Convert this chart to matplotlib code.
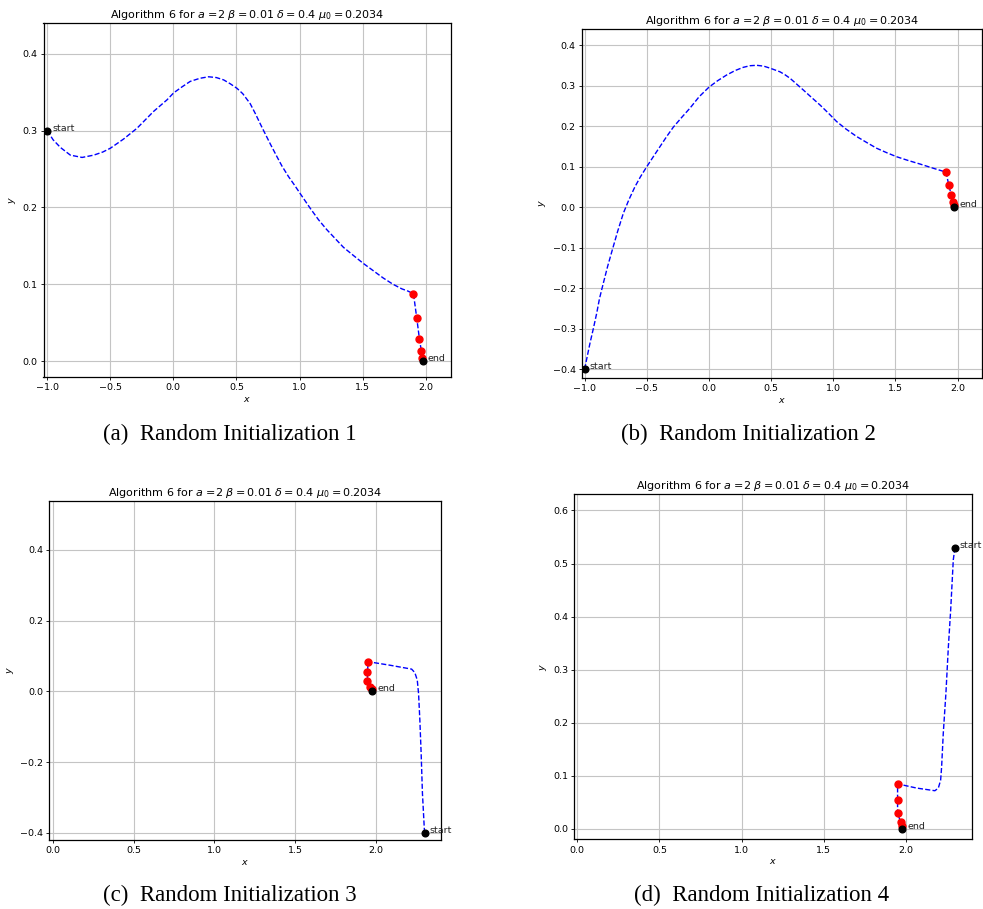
import matplotlib
matplotlib.use("Agg")
import matplotlib.pyplot as plt

# ---------------- data ----------------
title = r"Algorithm 6 for $a$ =2 $\beta=0.01$ $\delta=0.4$ $\mu_0=0.2034$"
captions = ["(a)  Random Initialization 1", "(b)  Random Initialization 2",
            "(c)  Random Initialization 3", "(d)  Random Initialization 4"]

# panel (a)
a_curve_x = [-1.0, -0.953, -0.895, -0.816, -0.723, -0.631, -0.560, -0.499, -0.394, -0.288,
             -0.156, -0.05, 0.002, 0.07, 0.134, 0.21, 0.279, 0.34, 0.398, 0.45,
             0.504, 0.55, 0.609, 0.65, 0.688, 0.715, 0.77, 0.821, 0.86, 0.913,
             0.96, 1.005, 1.084, 1.15, 1.216, 1.348, 1.43, 1.506, 1.664, 1.74,
             1.810, 1.86]
a_curve_y = [0.300, 0.288, 0.278, 0.268, 0.265, 0.268, 0.272, 0.277, 0.289, 0.303,
             0.325, 0.340, 0.349, 0.357, 0.364, 0.368, 0.370, 0.369, 0.366, 0.361,
             0.355, 0.348, 0.335, 0.322, 0.309, 0.300, 0.282, 0.266, 0.254, 0.240,
             0.229, 0.218, 0.199, 0.184, 0.171, 0.148, 0.137, 0.127, 0.108, 0.100,
             0.094, 0.091]
a_red_x = [1.903, 1.929, 1.950, 1.966, 1.972]
a_red_y = [0.0875, 0.056, 0.029, 0.0125, 0.004]
a_start = (-1.0, 0.300)
a_end = (1.976, 0.0)

# panel (b)
b_curve_x = [-1.0, -0.98, -0.957, -0.93, -0.903, -0.88, -0.850, -0.815, -0.778, -0.735,
             -0.689, -0.645, -0.595, -0.55, -0.501, -0.45, -0.394, -0.34, -0.287, -0.22,
             -0.153, -0.08, 0.0, 0.07, 0.142, 0.21, 0.276, 0.33, 0.384, 0.44,
             0.491, 0.571, 0.61, 0.652, 0.70, 0.759, 0.82, 0.893, 0.96, 1.027,
             1.10, 1.188, 1.27, 1.349, 1.43, 1.510, 1.60, 1.698, 1.80]
b_curve_y = [-0.400, -0.370, -0.336, -0.300, -0.262, -0.225, -0.188, -0.146, -0.106, -0.060,
             -0.015, 0.018, 0.051, 0.076, 0.100, 0.124, 0.150, 0.175, 0.198, 0.222,
             0.245, 0.273, 0.297, 0.313, 0.327, 0.338, 0.346, 0.350, 0.351, 0.349,
             0.344, 0.335, 0.328, 0.319, 0.306, 0.290, 0.273, 0.253, 0.233, 0.212,
             0.194, 0.175, 0.160, 0.146, 0.135, 0.125, 0.116, 0.107, 0.097]
b_red_x = [1.907, 1.928, 1.949, 1.966, 1.971]
b_red_y = [0.087, 0.056, 0.030, 0.013, 0.005]
b_start = (-1.0, -0.400)
b_end = (1.973, 0.0)

# panel (c)
c_curve_x = [2.300, 2.287, 2.279, 2.271, 2.263, 2.255, 2.240, 2.220, 2.086]
c_curve_y = [-0.400, -0.288, -0.175, -0.081, -0.006, 0.032, 0.053, 0.063, 0.074]
c_red_x = [1.951, 1.947, 1.947, 1.962, 1.972]
c_red_y = [0.084, 0.055, 0.029, 0.013, 0.006]
c_start = (2.300, -0.400)
c_end = (1.976, 0.0)

# panel (d)
d_curve_x = [2.298, 2.288, 2.272, 2.258, 2.243, 2.227, 2.217, 2.211, 2.197, 2.176, 2.065]
d_curve_y = [0.530, 0.507, 0.412, 0.343, 0.255, 0.180, 0.117, 0.092, 0.077, 0.072, 0.077]
d_red_x = [1.949, 1.949, 1.949, 1.968, 1.974]
d_red_y = [0.085, 0.055, 0.030, 0.0126, 0.006]
d_start = (2.298, 0.530)
d_end = (1.978, 0.0)

panels = [
    (a_curve_x, a_curve_y, a_red_x, a_red_y, a_start, a_end),
    (b_curve_x, b_curve_y, b_red_x, b_red_y, b_start, b_end),
    (c_curve_x, c_curve_y, c_red_x, c_red_y, c_start, c_end),
    (d_curve_x, d_curve_y, d_red_x, d_red_y, d_start, d_end),
]

# ---------------- layout ----------------
W, H = 983, 909
# axes boxes in pixels: left, right, top, bottom
boxes = [(43.5, 450.7, 23.0, 376.7),
         (582.0, 982.5, 29.3, 377.7),
         (49.3, 440.7, 500.7, 840.0),
         (574.3, 971.7, 494.0, 839.3)]
limits = [((-1.029, 2.198), (-0.0204, 0.44)),
          ((-1.021, 2.20), (-0.421, 0.44)),
          ((-0.022, 2.40), (-0.42, 0.539)),
          ((-0.018, 2.40), (-0.0195, 0.631))]
xticks = [[-1.0, -0.5, 0.0, 0.5, 1.0, 1.5, 2.0],
          [-1.0, -0.5, 0.0, 0.5, 1.0, 1.5, 2.0],
          [0.0, 0.5, 1.0, 1.5, 2.0],
          [0.0, 0.5, 1.0, 1.5, 2.0]]
yticks = [[0.0, 0.1, 0.2, 0.3, 0.4],
          [-0.4, -0.3, -0.2, -0.1, 0.0, 0.1, 0.2, 0.3, 0.4],
          [-0.4, -0.2, 0.0, 0.2, 0.4],
          [0.0, 0.1, 0.2, 0.3, 0.4, 0.5, 0.6]]
cap_pos = [(230, 440), (748, 440), (230, 901.5), (762, 901.5)]

fs_tick = 6.8
fig = plt.figure(figsize=(W / 100, H / 100), dpi=100)

for i, (cx, cy, rx, ry, st, en) in enumerate(panels):
    l, r, t, b = boxes[i]
    ax = fig.add_axes([l / W, (H - b) / H, (r - l) / W, (b - t) / H])
    ax.grid(True, color="#c4c4c4", linewidth=0.8)
    ax.set_axisbelow(True)
    px = list(cx) + list(rx) + [en[0]]
    py = list(cy) + list(ry) + [en[1]]
    ax.plot(px, py, "b--", linewidth=1.0, zorder=2)
    ax.plot(rx, ry, "o", color="red", markersize=5, zorder=3)
    ax.plot([st[0]], [st[1]], "o", color="black", markersize=4.8, zorder=4)
    ax.plot([en[0]], [en[1]], "o", color="black", markersize=4.8, zorder=4)
    ax.annotate("start", xy=st, xytext=(3.6, 0), textcoords="offset points",
                fontsize=fs_tick, va="baseline", ha="left", color="#222222")
    ax.annotate("end", xy=en, xytext=(3.6, 0), textcoords="offset points",
                fontsize=fs_tick, va="baseline", ha="left", color="#222222")
    ax.set_xlim(*limits[i][0])
    ax.set_ylim(*limits[i][1])
    ax.set_xticks(xticks[i])
    ax.set_yticks(yticks[i])
    ax.tick_params(labelsize=fs_tick, length=2.5, width=0.6, pad=2)
    ax.set_xlabel("$x$", fontsize=fs_tick, labelpad=2)
    ax.set_ylabel("$y$", fontsize=fs_tick, labelpad=3)
    ax.set_title(title, fontsize=8.0, pad=3.5)
    for s in ax.spines.values():
        s.set_linewidth(0.9)
    fx, fy = cap_pos[i]
    fig.text(fx / W, 1 - fy / H, captions[i], ha="center", va="baseline",
             fontsize=16.5, family="Liberation Serif")

fig.savefig("out.png", dpi=100)
